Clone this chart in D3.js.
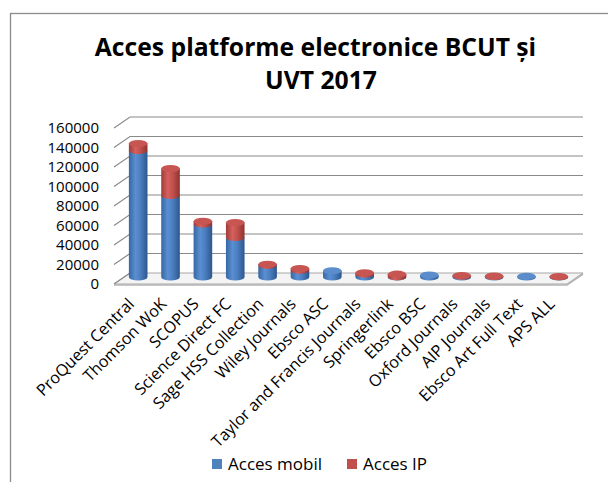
<!DOCTYPE html>
<html>
<head>
<meta charset="utf-8">
<script src="https://cdn.jsdelivr.net/npm/d3@7"></script>
<style>
  html, body { margin: 0; padding: 0; background: #fff; }
  svg { display: block; font-family: "Open Sans", "DejaVu Sans", sans-serif; }
</style>
</head>
<body>
<svg id="chart" width="608" height="482"></svg>
<script>
// data
var categories = ["ProQuest Central", "Thomson WoK", "SCOPUS", "Science Direct FC", "Sage HSS Collection",
    "Wiley Journals", "Ebsco ASC", "Taylor and Francis Journals", "Springerlink", "Ebsco BSC",
    "Oxford Journals", "AIP Journals", "Ebsco Art Full Text", "APS ALL"];
var accesMobil = [129700, 83600, 54400, 40500, 12000, 7000, 6400, 3000, 200, 2000, 900, 500, 700, 200];
var accesIP    = [7200, 27700, 2800, 15400, 1100, 1700, 0, 1300, 2700, 0, 600, 400, 0, 300];
var yTicks = [0, 20000, 40000, 60000, 80000, 100000, 120000, 140000, 160000];
var seriesNames = ["Acces mobil", "Acces IP"];

var svg = d3.select("#chart");
var defs = svg.append("defs");

// 3d box: front floor edge and the offset to the back wall
var depthX = 16, depthY = -11;
var x = d3.scaleBand().domain(categories).range([114, 567]);
var yBack = d3.scaleLinear().domain([0, 160000]).range([273, 117]);
var yCyl = d3.scaleLinear().domain([0, 160000]).range([277, 121]);
var rx = 9.3, ry = 3.6;

// outer frame
svg.append("rect")
    .attr("x", 10.5).attr("y", 13.5)
    .attr("width", 700).attr("height", 600)
    .attr("fill", "none").attr("stroke", "#8c8c8c").attr("stroke-width", 1.3);

// title
var title = svg.append("text")
    .attr("text-anchor", "middle")
    .attr("font-weight", "bold")
    .attr("font-size", 24.7)
    .attr("fill", "#000");
title.append("tspan").attr("x", 315.5).attr("y", 56).text("Acces platforme electronice BCUT și");
title.append("tspan").attr("x", 321).attr("y", 88.5).text("UVT 2017");

// floor
var fl = x.range()[0], fr = x.range()[1], fy = yBack(0) - depthY;
svg.append("path")
    .attr("d", "M" + fl + "," + fy + " L" + fr + "," + fy + " L" + (fr + depthX) + "," + (fy + depthY) +
        " L" + (fl + depthX) + "," + (fy + depthY) + " Z")
    .attr("fill", "#f4f4f4").attr("stroke", "#a6a6a6").attr("stroke-width", 1);
svg.append("path")
    .attr("d", "M" + fl + "," + (fy + 1) + " L" + fr + "," + (fy + 1) + " L" + (fr + depthX) + "," + (fy + depthY + 1))
    .attr("fill", "none").attr("stroke", "#b4b4b4").attr("stroke-width", 1.6);

// gridlines: back wall and left wall
var grid = svg.append("g").attr("stroke", "#8a8a8a").attr("stroke-width", 1.2).attr("fill", "none");
grid.selectAll("path").data(yTicks).join("path")
    .attr("d", function(d) {
        var yb = yBack(d);
        var s = "M" + fl + "," + (yb - depthY) + " L" + (fl + depthX) + "," + yb;
        if (d > 0) s += " L" + (fr + depthX) + "," + yb;
        return s;
    });

// y tick labels
svg.append("g").selectAll("text").data(yTicks).join("text")
    .attr("x", 99)
    .attr("y", function(d) { return yBack(d) - depthY; })
    .attr("dy", "0.35em")
    .attr("text-anchor", "end")
    .attr("font-size", 15)
    .attr("fill", "#000")
    .text(function(d) { return d; });

// gradients for the cylinders
var palette = [
    {id: "gBlue", stops: ["#3766a3", "#5a8fd2", "#4b7ebf", "#2c578e"], cap: "#5b8dcd"},
    {id: "gRed", stops: ["#a03b38", "#d4615e", "#c0504d", "#8e3330"], cap: "#c75653"}
];
palette.forEach(function(p) {
    var g = defs.append("linearGradient").attr("id", p.id)
        .attr("x1", "0").attr("x2", "1").attr("y1", "0").attr("y2", "0");
    [0, 0.35, 0.62, 1].forEach(function(o, i) {
        g.append("stop").attr("offset", o).attr("stop-color", p.stops[i]);
    });
});

// stacked cylinders
var bars = svg.append("g");
categories.forEach(function(c, i) {
    var cx = x(c) + x.bandwidth() / 2 + depthX / 2;
    var vals = [accesMobil[i], accesIP[i]];
    var base = 0, last = -1;
    vals.forEach(function(v, s) { if (v > 0) last = s; });
    vals.forEach(function(v, s) {
        if (v <= 0) return;
        var yB = yCyl(base), yT = yCyl(base + v);
        bars.append("path")
            .attr("d", "M" + (cx - rx) + "," + yT + " L" + (cx - rx) + "," + yB +
                " A" + rx + "," + ry + " 0 0 0 " + (cx + rx) + "," + yB +
                " L" + (cx + rx) + "," + yT + " Z")
            .attr("fill", "url(#" + palette[s].id + ")");
        if (s === last) {
            bars.append("ellipse")
                .attr("cx", cx).attr("cy", yT).attr("rx", rx).attr("ry", ry)
                .attr("fill", palette[s].cap);
        }
        base += v;
    });
});

// category labels
svg.append("g").selectAll("text").data(categories).join("text")
    .attr("transform", function(d) {
        var cx = x(d) + x.bandwidth() / 2 + depthX / 2;
        return "translate(" + (cx - 3) + ",305) rotate(-45)";
    })
    .attr("text-anchor", "end")
    .attr("font-size", 16.2)
    .attr("fill", "#000")
    .text(function(d) { return d; });

// legend
var legendX = [212, 347];
var leg = svg.append("g").selectAll("g").data(seriesNames).join("g")
    .attr("transform", function(d, i) { return "translate(" + legendX[i] + ",459)"; });
leg.append("rect").attr("width", 10).attr("height", 10)
    .attr("fill", function(d, i) { return i === 0 ? "#4f81bd" : "#c0504d"; });
leg.append("text").attr("x", 16).attr("y", 11)
    .attr("font-size", 17).attr("fill", "#000")
    .text(function(d) { return d; });
</script>
</body>
</html>
